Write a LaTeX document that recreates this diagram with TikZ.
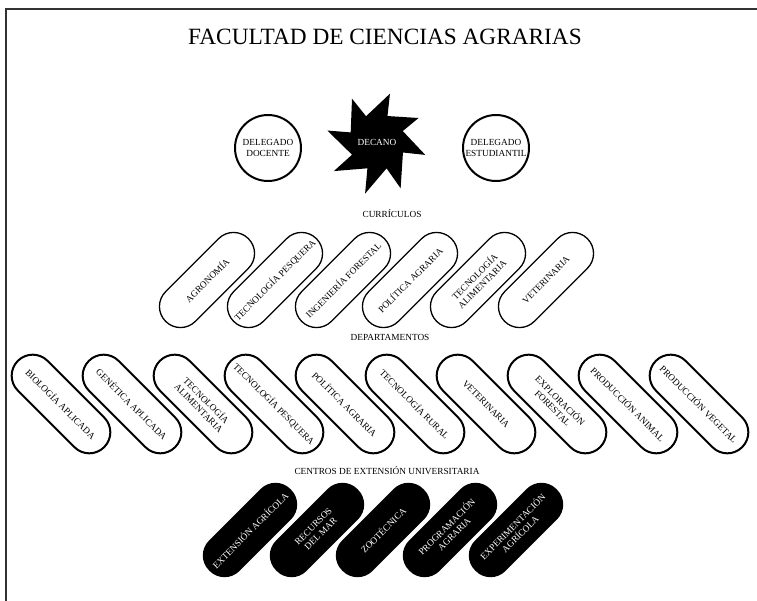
\documentclass[tikz,border=0pt]{standalone}
\usepackage{fontspec}
\setmainfont{Liberation Serif}
\usepackage{tikz}
\usetikzlibrary{positioning}
\usepackage{xcolor}
\definecolor{framegray}{RGB}{50,50,50}

\begin{document}
\begin{tikzpicture}[
    x=1pt, y=-1pt,
    small/.style={font=\fontsize{9.3pt}{10.5pt}\selectfont},
    delegado/.style={circle, draw, line width=2pt, minimum size=66pt, inner sep=0pt, align=center, small},
    curriculo/.style={rectangle, draw, rounded corners=20.9pt, line width=1.3pt, minimum width=117pt, minimum height=42pt, inner sep=1pt, align=center, rotate=45, small},
    depto/.style={rectangle, draw, rounded corners=20.9pt, line width=2pt, minimum width=122pt, minimum height=42pt, inner sep=1pt, align=center, rotate=-45, small},
    centro/.style={rectangle, fill=black, rounded corners=20.9pt, minimum width=115pt, minimum height=43pt, inner sep=1pt, align=center, rotate=45, text=white, small},
    section/.style={anchor=base, small}
]
\useasboundingbox (0,0) rectangle (757,601);

% Frame
\draw[line width=1.2pt, color=framegray] (757,9) -- (6,9) -- (6,601);

% Title
\node[font=\fontsize{23.3pt}{26pt}\selectfont] (titulo) at (385,37) {FACULTAD DE CIENCIAS AGRARIAS};

% Top - Decano and delegados
\fill[shift={(377,142)}] (-75:50) -- (-113:28) -- (-120:50) -- (-160:28) -- (-167:51) -- (-207:28)
    -- (-214:52) -- (-250:28) -- (-257:53) -- (-290:28) -- (-297:52) -- (-338:28) -- (-345:50)
    -- (-23:28) -- (-30:48) -- (-68:28) -- cycle;
\node[small, text=white] (decano) at (377,142) {DECANO};
\node[delegado] (docente) at (268,148) {DELEGADO\\DOCENTE};
\node[delegado] (estudiantil) at (496,148) {DELEGADO\\ESTUDIANTIL};

% Curriculos
\node[section] (curriculos) at (392,218) {CURRÍCULOS};
\node[curriculo] (agro) at (207,280) {AGRONOMÍA};
\node[curriculo] (pesq) at (275,280) {TECNOLOGÍA PESQUERA};
\node[curriculo] (forest) at (343,280) {INGENIERÍA FORESTAL};
\node[curriculo] (polit) at (410,280) {POLÍTICA AGRARIA};
\node[curriculo] (alim) at (478,280) {TECNOLOGÍA\\ALIMENTARIA};
\node[curriculo] (vete) at (546,280) {VETERINARIA};

% Departamentos
\node[section] (departamentos) at (390,340) {DEPARTAMENTOS};
\node[depto] (biol) at (61,404) {BIOLOGÍA APLICADA};
\node[depto] (genet) at (132,404) {GENÉTICA APLICADA};
\node[depto] (dalim) at (203,404) {TECNOLOGÍA\\ALIMENTARIA};
\node[depto] (dpesq) at (274,404) {TECNOLOGÍA PESQUERA};
\node[depto] (dpolit) at (345,404) {POLÍTICA AGRARIA};
\node[depto] (rural) at (415,404) {TECNOLOGÍA RURAL};
\node[depto] (dvete) at (486,404) {VETERINARIA};
\node[depto] (explor) at (557,404) {EXPLORACIÓN\\FORESTAL};
\node[depto] (panim) at (628,404) {PRODUCCIÓN ANIMAL};
\node[depto] (pveg) at (699,404) {PRODUCCIÓN VEGETAL};

% Centros de extension
\node[section] (centros) at (387,474) {CENTROS DE EXTENSIÓN UNIVERSITARIA};
\node[centro] (ext) at (250,530) {EXTENSIÓN AGRÍCOLA};
\node[centro] (mar) at (317,530) {RECURSOS\\DEL MAR};
\node[centro] (zoot) at (383,530) {ZOOTÉCNICA};
\node[centro] (prog) at (450,530) {PROGRAMACIÓN\\AGRARIA};
\node[centro] (exper) at (516,530) {EXPERIMENTACIÓN\\AGRÍCOLA};

\end{tikzpicture}
\end{document}
